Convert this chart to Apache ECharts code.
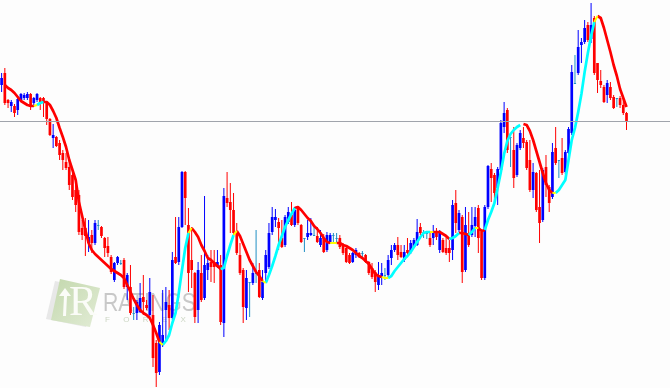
<!DOCTYPE html>
<html>
<head>
<meta charset="utf-8">
<style>
  html, body { margin: 0; padding: 0; background: #fdfdfd; }
  #chart { width: 670px; height: 388px; }
</style>
</head>
<body>
<div id="chart"></div>
<script src="https://cdn.jsdelivr.net/npm/echarts@6/dist/echarts.min.js"></script>
<script>
// price levels, one entry per bar
const openVals = [303,315,288,282,282,278,288,290,290,294,285,288,290,290,286,269,250,251,245,235,226,221,213,198,193,160,160,145,153,145,163,161,150,142,131,108,125,125,128,101,101,75,75,76,91,83,73,73,45,16,43,78,83,70,131,126,161,216,163,128,115,78,115,90,118,126,126,121,123,65,190,186,178,155,133,118,80,106,105,115,118,90,115,121,156,168,166,150,143,166,173,163,180,163,150,151,153,153,152,143,150,138,146,153,150,150,143,140,133,126,133,135,135,133,126,120,116,103,110,113,113,130,138,143,136,128,138,136,141,143,161,156,155,150,150,156,138,148,140,140,138,185,158,171,118,155,153,162,180,156,110,181,219,213,200,218,261,278,251,238,213,240,250,246,228,198,215,181,168,221,201,191,240,228,230,216,235,255,305,315,343,346,363,349,370,325,307,301,293,301,291,290,290,283,275];
const closeVals = [310,285,285,286,275,289,294,293,294,283,290,294,286,286,269,253,253,242,233,228,220,203,191,183,156,153,152,151,145,165,163,152,140,135,116,125,131,125,101,113,75,75,86,90,86,80,96,30,15,63,53,86,70,128,125,161,216,190,115,118,71,118,88,123,125,121,121,126,66,192,185,178,155,135,115,81,110,106,115,115,91,106,133,155,171,171,160,141,171,176,163,178,165,146,150,155,155,153,146,150,136,153,153,153,150,141,135,126,125,135,138,131,135,126,115,111,106,113,115,113,128,138,143,133,131,136,135,145,148,156,155,156,155,143,155,151,155,136,135,135,183,165,175,116,163,143,163,171,150,110,181,222,210,195,219,265,275,238,251,210,243,255,245,220,198,216,178,165,218,203,185,236,225,228,215,236,259,316,305,341,346,360,348,363,315,308,303,286,305,290,280,290,283,275,266];
const lowVals = [296,283,280,276,271,273,286,288,288,278,281,286,278,271,263,252,240,241,228,218,218,198,188,176,153,148,132,136,135,143,158,150,131,131,114,106,123,123,99,88,73,68,68,75,73,78,71,21,1,13,41,48,58,68,124,123,160,163,96,100,65,65,86,88,108,106,105,120,63,51,181,155,153,133,113,65,68,71,103,105,90,88,106,119,153,161,138,140,141,164,162,161,163,145,136,148,152,153,145,141,135,136,144,145,145,139,133,125,124,125,130,130,131,125,113,109,96,98,103,108,111,123,136,128,130,126,133,134,140,142,153,150,149,141,143,148,135,135,133,126,128,155,156,105,116,141,151,151,135,108,108,179,186,186,183,216,255,235,221,200,211,238,240,218,196,190,176,145,166,191,176,189,223,210,213,214,228,253,305,313,325,344,346,345,313,295,300,285,285,288,279,281,280,273,258];
const highVals = [315,320,289,288,284,290,295,295,296,295,291,295,291,291,287,270,264,252,248,238,235,231,218,208,198,168,170,168,158,168,168,162,151,151,133,126,132,128,130,115,123,81,88,105,113,88,110,93,48,66,98,101,98,136,171,171,217,217,180,161,116,126,133,192,133,138,138,138,133,200,216,205,195,165,145,120,118,106,125,158,125,118,138,165,181,179,170,168,173,181,186,181,181,164,150,168,170,163,161,158,154,156,155,155,155,153,145,141,135,136,140,136,137,134,127,125,118,126,125,120,133,143,145,151,143,143,150,148,150,169,165,158,157,156,163,160,158,150,153,148,188,198,178,173,181,176,181,181,183,158,183,223,225,215,221,268,286,280,251,261,245,258,261,248,248,225,216,218,220,233,203,245,261,228,250,238,261,323,333,358,350,368,366,385,372,325,318,303,308,306,293,290,292,290,276];

// moving average drawn over the bars, level per bar
const maLine = [null,303,300,298,295,291,287,285,283,282,282,283,285,286,286,283,277,270,260,251,241,228,218,208,186,172,158,145,138,134,131,128,125,122,119,117,115,113,110,103,96,89,83,78,75,73,70,63,55,46,43,47,53,65,75,95,118,140,155,160,156,151,143,137,130,128,125,122,119,120,132,143,153,157,152,144,136,128,122,116,112,107,105,113,122,132,143,152,161,168,174,180,181,178,174,170,167,162,159,155,150,146,145,145,145,145,143,142,140,138,135,132,130,127,124,119,114,112,111,110,110,112,117,121,125,129,132,136,141,146,151,155,156,156,156,156,156,154,152,149,150,152,155,155,154,153,156,160,160,157,158,168,176,185,200,216,234,247,254,258,261,263,264,263,257,248,237,226,215,205,198,195,195,198,203,208,228,248,260,276,294,316,335,352,366,372,370,360,348,336,323,312,299,290,281];

// [first bar, last bar] of each colour stretch of the average
const fallingRuns = [[1,10],[13,49],[59,68],[73,81],[91,102],[104,118],[134,139],[142,145],[148,150],[162,171],[185,194]];
const risingRuns = [[11,13],[50,58],[68,72],[82,91],[120,133],[139,142],[145,147],[150,161],[172,184]];
const turningRuns = [[10,11],[49,50],[58,59],[72,73],[81,82],[102,104],[118,120],[133,134],[147,148],[171,172],[184,185]];

const priceLine = 267;
const barCount = 208;
const categories = Array.from({ length: barCount }, (_, i) => String(i + 1));

function pickRuns(runs) {
  const out = maLine.map(() => null);
  runs.forEach(([a, b]) => {
    for (let i = a; i <= b; i++) out[i] = maLine[i];
  });
  return out;
}

function renderCandle(params, api) {
  const o = api.value(1);
  const c = api.value(2);
  const x = api.coord([api.value(0), 0])[0];
  const top = api.coord([0, Math.max(o, c)])[1];
  const bot = api.coord([0, Math.min(o, c)])[1];
  const hi = api.coord([0, api.value(4)])[1];
  const lo = api.coord([0, api.value(3)])[1];
  const doji = o === c;
  const colour = doji ? '#1f8fc4' : c > o ? '#0000ff' : '#ff0000';
  const w = doji ? 2.2 : 2.7;
  return {
    type: 'group',
    children: [
      {
        type: 'line',
        shape: { x1: x, y1: hi, x2: x, y2: lo },
        style: { stroke: colour, lineWidth: 1 }
      },
      {
        type: 'rect',
        shape: { x: x - w / 2, y: top, width: w, height: Math.max(bot - top, 1) },
        style: { fill: colour }
      }
    ]
  };
}

function maSeries(name, data, colour, z, width) {
  return {
    name, type: 'line', data, z,
    showSymbol: false, smooth: false, connectNulls: false, silent: true,
    lineStyle: { color: colour, width, cap: 'butt', join: 'round' }
  };
}

const chart = echarts.init(document.getElementById('chart'));
chart.setOption({
  animation: false,
  backgroundColor: '#fdfdfd',
  grid: { left: 0, right: 0, top: 0, bottom: 0 },
  xAxis: { type: 'category', data: categories, show: false },
  yAxis: { type: 'value', min: 0, max: 388, show: false },
  graphic: [
    { type: 'polygon', z: 0, shape: { points: [[55, 281], [94, 289], [86, 327], [46, 319]] },
      style: { fill: '#e8e8e8' } },
    { type: 'polygon', z: 0, shape: { points: [[60, 279], [100, 288], [90, 327], [51, 320]] },
      style: { fill: new echarts.graphic.LinearGradient(0, 0, 1, 1, [
        { offset: 0, color: '#c3d8ad' }, { offset: 1, color: '#e2ecd6' }
      ]) } },
    { type: 'polygon', z: 1, shape: { points: [[65, 288], [71, 296], [67, 296], [66, 316], [63, 316], [64, 296], [59, 296]] },
      style: { fill: '#fbfcf8' } },
    { type: 'text', z: 1, x: 69, y: 283,
      style: { text: 'R', fill: '#fbfcf8', font: '42px "Liberation Serif"' } },
    { type: 'text', z: 1, x: 103, y: 292, scaleX: 0.85,
      style: { text: 'RATINGS', fill: '#c8c8c8', font: '25px "Liberation Sans"' } },
    { type: 'text', z: 1, x: 105, y: 316,
      style: { text: 'F      O      R      E      X', fill: '#ccd6c4', font: '8px "Liberation Sans"' } }
  ],
  series: [
    {
      name: 'candles', type: 'custom', z: 2, silent: true,
      renderItem: renderCandle,
      encode: { x: 0, y: [1, 2, 3, 4] },
      data: openVals.map((o, i) => [i, o, closeVals[i], lowVals[i], highVals[i]]),
      markLine: {
        silent: true, symbol: 'none', label: { show: false },
        lineStyle: { color: '#a0a4ac', width: 1, type: 'solid' },
        data: [{ yAxis: priceLine }]
      }
    },
    maSeries('falling', pickRuns(fallingRuns), '#ff0000', 3, 2.7),
    maSeries('rising', pickRuns(risingRuns), '#00ffff', 3, 2.7),
    maSeries('turning', pickRuns(turningRuns), '#ffff00', 4, 2)
  ]
});
</script>
</body>
</html>
